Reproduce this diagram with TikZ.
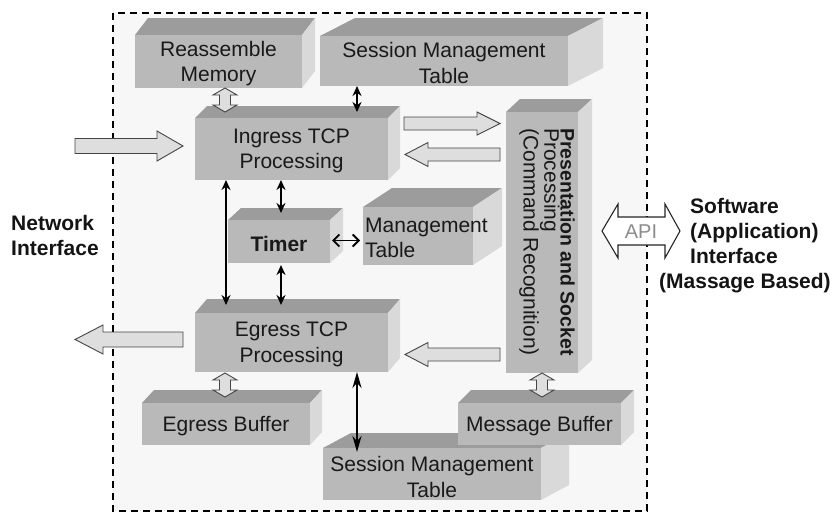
\documentclass[tikz,border=0pt]{standalone}
\usepackage{fontspec}
\setmainfont{Liberation Sans}
\usetikzlibrary{arrows.meta,calc}

\definecolor{facefront}{HTML}{B9B9B9}
\definecolor{facetop}{HTML}{9C9C9C}
\definecolor{faceside}{HTML}{D9D9D9}
\definecolor{panel}{HTML}{F7F7F7}
\definecolor{blockfill}{HTML}{DEDEDE}
\definecolor{blockline}{HTML}{454545}
\definecolor{apigray}{HTML}{8C8C8C}

\newcommand\boxfont{\fontsize{21}{25.5}\selectfont}
\newcommand\labelfont{\bfseries\fontsize{21}{25}\selectfont}

\tikzset{
  frontface/.style={fill=facefront, inner sep=0pt, outer sep=0pt, align=center, font=\boxfont, text=black!90},
  topface/.style={fill=facetop},
  sideface/.style={fill=faceside},
  blockarrow/.style={fill=blockfill, draw=blockline, line width=0.9pt, line join=miter},
  apiarrow/.style={fill=white, draw=black!85, line width=1.1pt, line join=miter},
  link/.style={line width=2.2pt, {Stealth[length=10pt,width=9pt]}-{Stealth[length=10pt,width=9pt]}},
  heavylink/.style={line width=2.4pt, {Stealth[length=16pt,width=9pt]}-{Stealth[length=16pt,width=9pt]}},
  openlink/.style={line width=1.9pt, {Straight Barb[length=6pt,width=12pt]}-{Straight Barb[length=6pt,width=12pt]}},
  frame/.style={line width=2.4pt, dash pattern=on 7pt off 5pt},
  sidelabel/.style={font=\labelfont, align=left, inner sep=0pt, text=black!92},
}

% A raised block: name, x1, y1, x2, y2 (front face), depth dx, dy, text
\newcommand\solidbox[8]{%
  \fill[topface] (#2,#3) -- ({#2+#6},{#3-#7}) -- ({#4+#6},{#3-#7}) -- (#4,#3) -- cycle;
  \fill[sideface] (#4,#3) -- ({#4+#6},{#3-#7}) -- ({#4+#6},{#5-#7}) -- (#4,#5) -- cycle;
  \node[frontface, minimum width={(#4-#2)*1pt}, minimum height={(#5-#3)*1pt}]
    (#1) at ({(#2+#4)/2},{(#3+#5)/2}) {};
  \node[font=\boxfont, align=center, inner sep=0pt, text=black!90]
    (#1-text) at ($(#1)+(0,2)$) {#8};
}

% Horizontal one-way block arrow: tail x, head base x, tip x, y, shaft half, head half
\newcommand\hsingle[6]{%
  \draw[blockarrow] (#1,{#4-#5}) -- (#2,{#4-#5}) -- (#2,{#4-#6}) -- (#3,#4)
    -- (#2,{#4+#6}) -- (#2,{#4+#5}) -- (#1,{#4+#5}) -- cycle;
}

% Vertical two-way block arrow: x, top tip, top base, bottom base, bottom tip, shaft half, head half
\newcommand\vdouble[7]{%
  \draw[blockarrow] (#1,#2) -- ({#1+#7},#3) -- ({#1+#6},#3) -- ({#1+#6},#4) -- ({#1+#7},#4)
    -- (#1,#5) -- ({#1-#7},#4) -- ({#1-#6},#4) -- ({#1-#6},#3) -- ({#1-#7},#3) -- cycle;
}

\begin{document}
\begin{tikzpicture}[x=1pt, y=-1pt]
\useasboundingbox (0,0) rectangle (836,514);

% chip boundary
\fill[panel] (113,13) rectangle (647,511);
\draw[frame] (113,13) rectangle (647,511);

% blocks
\solidbox{reasm}{135}{35}{302}{88}{13}{17}{Reassemble\\Memory}
\solidbox{sesstop}{320}{36}{568}{86}{35}{18}{Session Management\\Table}
\solidbox{pres}{506}{112}{578}{373}{14}{13}{}
\solidbox{ingress}{195}{118}{388}{180}{12}{12}{Ingress TCP\\Processing}
\solidbox{timer}{228}{220}{330}{263}{13}{12}{\bfseries Timer}
\solidbox{mgmt}{363}{207}{473}{265}{29}{19}{}
\solidbox{egress}{195}{313}{388}{372}{12}{14}{Egress TCP\\Processing}
\solidbox{egbuf}{142}{403}{310}{445}{12}{13}{Egress Buffer}
\solidbox{sessbot}{323}{448}{541}{500}{28}{15}{}
\solidbox{msgbuf}{458}{403}{621}{445}{13}{13}{Message Buffer}

\node[font=\boxfont, align=center, inner sep=0pt, text=black!90]
  (sessbotlabel) at ($(sessbot)+(0,3)$) {Session Management\\Table};
\node[anchor=west, align=left, inner sep=0pt, font=\boxfont, text=black!90]
  (mgmtlabel) at (365,238) {Management\\Table};
\node[rotate=-90, anchor=north west, align=left, inner sep=0pt, text=black!90]
  (preslabel) at (575,128)
  {{\bfseries\fontsize{19.5}{21}\selectfont Presentation and Socket}\\
   {\fontsize{21}{21}\selectfont Processing}\\
   {\fontsize{21}{21}\selectfont (Command Recognition)}};

% outer interface labels
\node[sidelabel, anchor=west] (netif) at (11,235) {Network\\Interface};
\node[sidelabel, anchor=west] (swif) at (659,246)
  {\hspace*{31pt}Software\\\hspace*{31pt}(Application)\\\hspace*{31pt}Interface\\(Massage Based)};

% data-path block arrows
\hsingle{75}{157}{183}{146}{7.5}{15}
\hsingle{183}{103}{75}{339.5}{7.5}{14.5}
\hsingle{404}{477}{500}{123.5}{6.5}{11.5}
\hsingle{500}{428}{405}{154.5}{6.5}{12}
\hsingle{500}{428}{405}{354.5}{6.5}{12}
\vdouble{225}{88}{95}{105}{112}{5.5}{12}
\vdouble{225}{373}{380}{390}{397}{5.5}{12}
\vdouble{542}{373}{380}{390}{397}{5.5}{12}

% API double arrow across the boundary
\draw[apiarrow] (602,231) -- (618,204) -- (618,217) -- (665,217) -- (665,204) -- (680,231)
  -- (665,258) -- (665,245) -- (618,245) -- (618,258) -- cycle;
\node[font=\fontsize{20}{20}\selectfont, text=apigray, inner sep=0pt] (api) at (641,232) {API};

% control links
\coordinate (colA) at (226,0);
\coordinate (colB) at (281,0);
\coordinate (colC) at (357,0);
\draw[link] (sesstop.south -| colC) -- ($(ingress.north -| colC)+(0,-6)$);
\draw[link] (ingress.south -| colA) -- ($(egress.north -| colA)+(0,-8)$);
\draw[link] (ingress.south -| colB) -- ($(timer.north -| colB)+(0,-7)$);
\draw[link] ($(timer.south -| colB)+(0,2)$) -- ($(egress.north -| colB)+(0,-8)$);
\coordinate (tm) at ($(timer.east)+(2,-1)$);
\draw[openlink] (tm) -- ($(mgmt.west |- tm)+(-3,0)$);
\draw[heavylink] (egress.south -| colC) -- ($(sessbot.north -| colC)+(0,4)$);

\end{tikzpicture}
\end{document}
